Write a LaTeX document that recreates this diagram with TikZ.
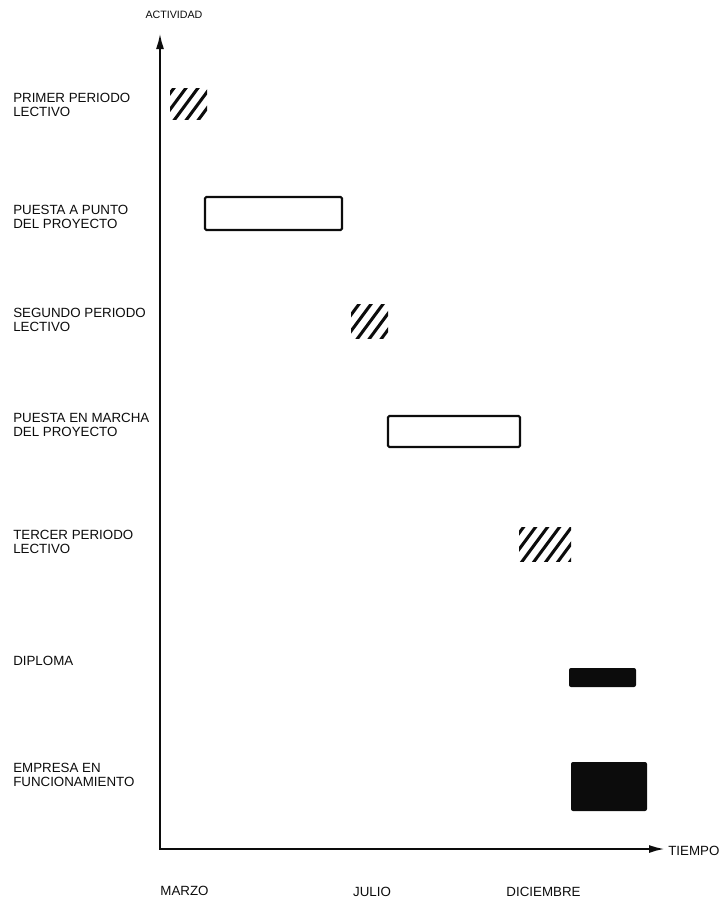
\documentclass[tikz,border=0pt]{standalone}
\usepackage{xcolor}
\usepackage{fontspec}
\setmainfont{Liberation Sans}
\usepackage{tikz}
\usetikzlibrary{arrows.meta, calc}
\definecolor{GanttInk}{RGB}{12, 12, 12}

\begin{document}
\begin{tikzpicture}[x=0.75pt, y=-0.75pt,
    etiqueta/.style={anchor=west, align=left, inner sep=0pt, text=GanttInk,
                     font=\fontsize{10}{10.5}\selectfont},
    mes/.style={inner sep=0pt, text=GanttInk, font=\fontsize{10}{10.5}\selectfont},
    eje/.style={draw=GanttInk, line width=1.7pt,
                {Latex[length=12pt, width=6pt]}-{Latex[length=12pt, width=6pt]}},
    hueco/.style={draw=GanttInk, line width=1.6pt, rounded corners=1pt},
    macizo/.style={fill=GanttInk, rounded corners=1.5pt},
    rayado/.style={path picture={
        \foreach \k in {-4,...,4}
          \draw[GanttInk, line width=2.3pt, line cap=round]
            ($(path picture bounding box.center)+(\k*12+#1,0)+(-20,27)$) --
            ($(path picture bounding box.center)+(\k*12+#1,0)+(20,-27)$);
      }}]
  \useasboundingbox (0,0) rectangle (721,900);

  \coordinate (origen) at (160,849);
  \coordinate (techo) at (160,33);
  \coordinate (fin) at (665,849);
  \draw[eje] (techo) -- (origen) -- (fin);

  \node[mes, font=\fontsize{8}{9}\selectfont] (actividad) at (174,15) {ACTIVIDAD};
  \node[etiqueta] (tiempo) at (668,851) {TIEMPO};
  \node[mes] (marzo) at (184.5,891) {MARZO};
  \node[mes] (julio) at (372,892) {JULIO};
  \node[mes] (diciembre) at (543.5,892) {DICIEMBRE};

  \node[etiqueta] (primer) at (13,105) {PRIMER PERIODO\\LECTIVO};
  \node[etiqueta] (ppunto) at (13,216.5) {PUESTA A PUNTO\\DEL PROYECTO};
  \node[etiqueta] (segundo) at (13,320) {SEGUNDO PERIODO\\LECTIVO};
  \node[etiqueta] (pmarcha) at (13,424.5) {PUESTA EN MARCHA\\DEL PROYECTO};
  \node[etiqueta] (tercer) at (13,542) {TERCER PERIODO\\LECTIVO};
  \node[etiqueta] (diploma) at (13,661) {DIPLOMA};
  \node[etiqueta] (empresa) at (13,775) {EMPRESA EN\\FUNCIONAMIENTO};

  \path[rayado=-2] (170,88) rectangle (207,119);
  \draw[hueco] (205,197) rectangle (342,230);
  \path[rayado=1] (351,304) rectangle (388,338);
  \draw[hueco] (388,416) rectangle (520,447);
  \path[rayado=2] (519,527) rectangle (571,561);
  \fill[macizo] (569,668) rectangle (636,687);
  \fill[macizo] (571,762) rectangle (647,811);
\end{tikzpicture}
\end{document}
